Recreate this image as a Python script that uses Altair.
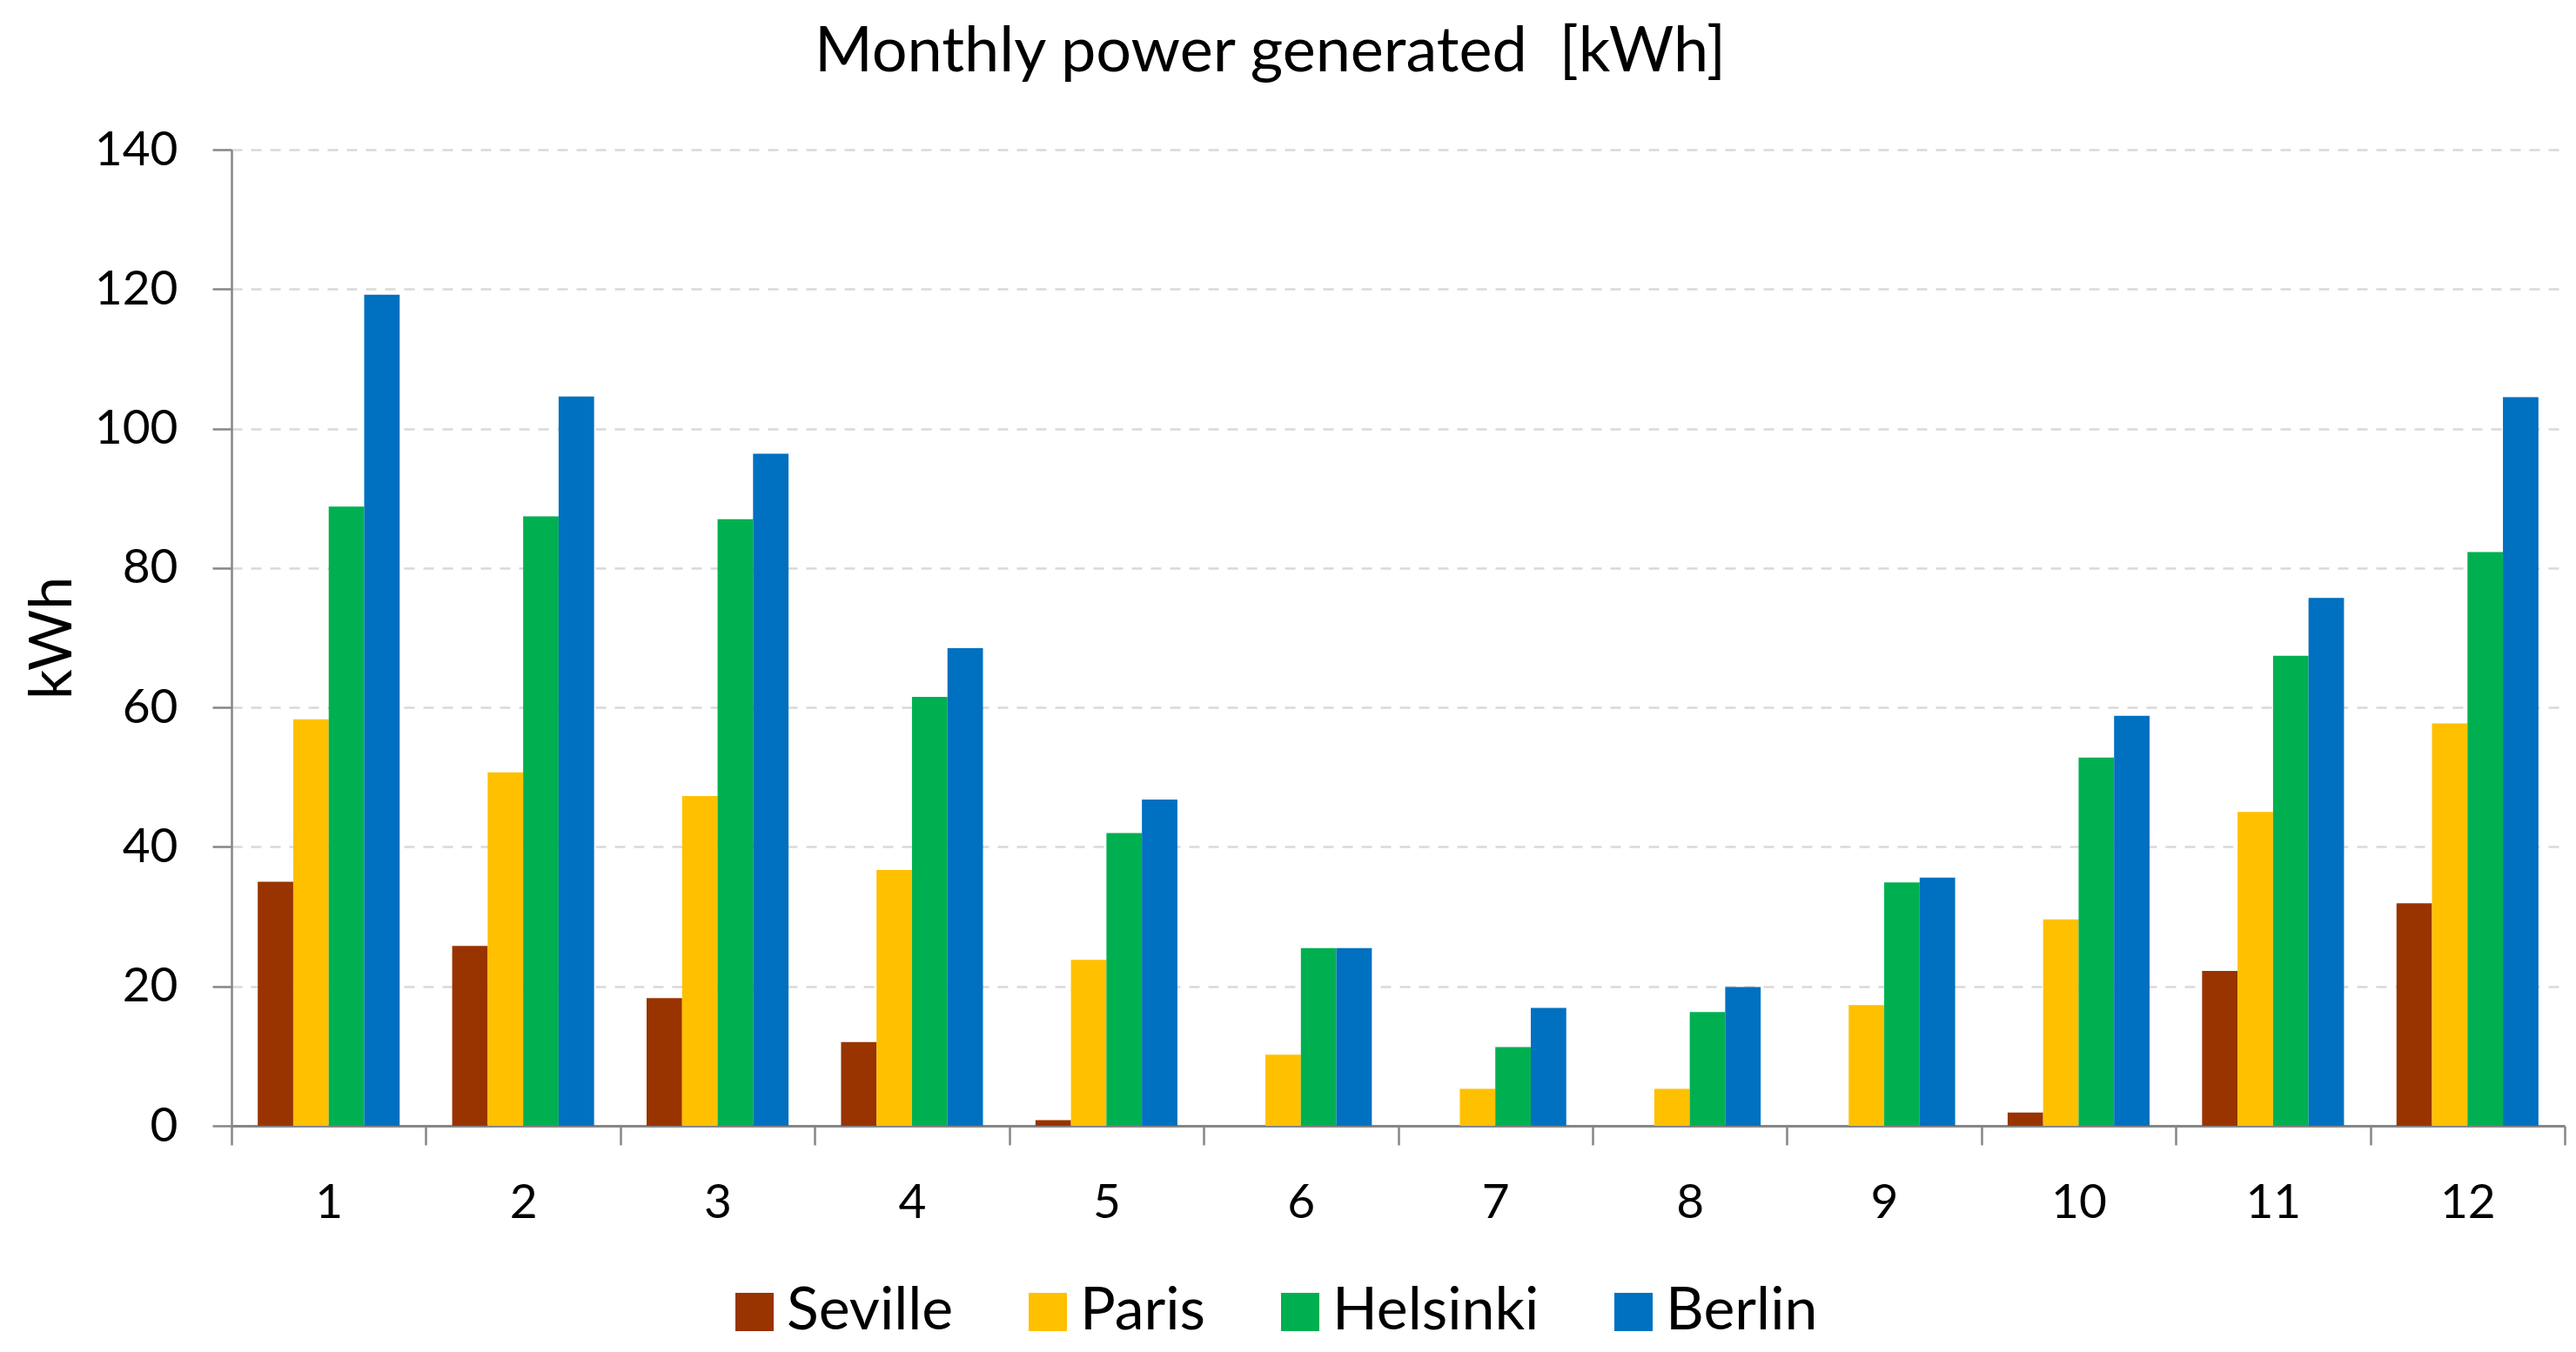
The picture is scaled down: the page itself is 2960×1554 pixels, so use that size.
import altair as alt
import pandas as pd

months = [1, 2, 3, 4, 5, 6, 7, 8, 9, 10, 11, 12]
cities = ["Seville", "Paris", "Helsinki", "Berlin"]
colors = ["#993300", "#FFC000", "#00B050", "#0070C0"]

seville = [35.0, 25.8, 18.3, 12.0, 0.8, 0.0, 0.0, 0.0, 0.0, 1.9, 22.2, 31.9]
paris = [58.3, 50.7, 47.3, 36.7, 23.8, 10.2, 5.3, 5.3, 17.3, 29.6, 45.0, 57.7]
helsinki = [88.8, 87.4, 87.0, 61.5, 42.0, 25.5, 11.3, 16.3, 34.9, 52.8, 67.4, 82.3]
berlin = [119.2, 104.6, 96.4, 68.5, 46.8, 25.5, 16.9, 19.9, 35.6, 58.8, 75.7, 104.5]

series = {"Seville": seville, "Paris": paris, "Helsinki": helsinki, "Berlin": berlin}
rows = []
for c in cities:
    for m, v in zip(months, series[c]):
        rows.append({"month": m, "city": c, "kWh": v})
df = pd.DataFrame(rows)

FONT = "Lato"

chart = alt.Chart(df).mark_bar().encode(
    x=alt.X("month:O", title=None,
            scale=alt.Scale(paddingInner=0, paddingOuter=0),
            axis=alt.Axis(labelAngle=0, labelFontSize=55, labelFont=FONT, labelColor="#000000",
                          tickBand="extent", tickSize=22, tickColor="#868686", tickWidth=2.5,
                          domainColor="#868686", domainWidth=3, labelPadding=40, grid=False)),
    xOffset=alt.XOffset("city:N", sort=cities,
                        scale=alt.Scale(paddingInner=0, paddingOuter=0.74)),
    y=alt.Y("kWh:Q", title="kWh",
            scale=alt.Scale(domain=[0, 140], nice=False),
            axis=alt.Axis(values=[0, 20, 40, 60, 80, 100, 120, 140],
                          labelFontSize=55, labelFont=FONT, labelColor="#000000",
                          tickSize=22, tickColor="#868686", tickWidth=2.5,
                          domainColor="#868686", domainWidth=2.5, labelPadding=40,
                          grid=True, gridColor="#D9D9D9", gridDash=[12, 10], gridWidth=2.5,
                          titleFontSize=68, titleFont=FONT, titleFontWeight="normal", titleColor="#000000",
                          titleAngle=270, titleX=-205, titleY=561, titleBaseline="middle",
                          titleAlign="center")),
    color=alt.Color("city:N", sort=cities,
                    scale=alt.Scale(domain=cities, range=colors),
                    legend=alt.Legend(title=None, orient="none", direction="horizontal",
                                      legendX=567, legendY=1302, padding=0,
                                      symbolType="square", symbolSize=1936, symbolStrokeWidth=0,
                                      labelFontSize=68, labelFont=FONT, labelColor="#000000",
                                      labelLimit=1000,
                                      labelOffset=3, columnPadding=74)),
).properties(
    width=2681,
    height=1122,
    title=alt.TitleParams("Monthly power generated \u00a0[kWh]", fontSize=72, font=FONT,
                          fontWeight="normal", color="#000000", anchor="middle",
                          dx=-147, offset=48),
    autosize=alt.AutoSizeParams(type="none"),
    padding={"left": 258, "top": 164, "right": 5, "bottom": 252},
).configure_view(stroke=None)

chart.save("out.html", embed_options={"renderer": "svg", "actions": False})
